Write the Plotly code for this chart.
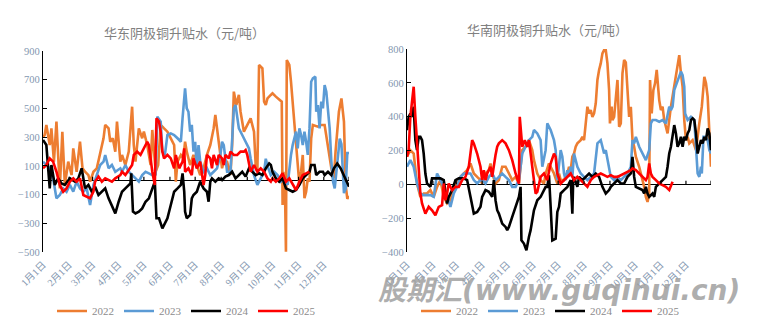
import pandas as pd
import plotly.graph_objects as go

# ---------------- data (day of year, premium yuan/ton) ----------------
YEARS = ["2022", "2023", "2024", "2025"]
COLORS = ["#ED7D31", "#5B9BD5", "#000000", "#FF0000"]
MONTH_LABELS = [f"{m}月1日" for m in range(1, 13)]
EAST_TICKS = [-500, -300, -100, 100, 300, 500, 700, 900]
SOUTH_TICKS = [-400, -200, 0, 200, 400, 600, 800]

EAST_2022 = [(1,300),(3,315),(5,385),(9,245),(11,361),(14,129),(17,408),(19,176),(21,-57),(24,338),(27,-33),(31,129),(35,36),(37,222),(41,59),(45,268),(48,83),(51,59),(55,36),(57,-10),(61,59),(65,83),(69,199),(73,292),(75,385),(79,361),(81,268),(84,292),(87,199),(89,408),(93,129),(95,176),(99,106),(103,199),(107,512),(109,245),(111,129),(115,361),(119,292),(121,338),(125,245),(127,176),(129,106),(131,350),(133,176),(135,59),(138,106),(141,385),(145,361),(149,338),(153,292),(157,245),(159,-10),(161,129),(165,176),(168,152),(170,268),(172,199),(176,106),(180,176),(184,106),(188,36),(192,83),(196,176),(200,245),(204,361),(206,454),(208,361),(210,245),(212,176),(214,83),(216,129),(220,129),(224,36),(226,245),(228,617),(231,524),(234,594),(236,477),(240,338),(244,385),(248,431),(252,338),(254,106),(256,59),(258,803),(262,779),(264,547),(266,524),(268,570),(272,594),(274,605),(278,582),(282,559),(285,547),(286,-173),(287,59),(289,-115),(290,-498),(291,837),(294,803),(296,686),(298,547),(300,385),(302,245),(304,106),(306,-33),(308,59),(310,176),(312,-126),(314,-80),(316,13),(318,-10),(320,290),(322,385),(328,373),(332,385),(336,385),(340,245),(344,83),(347,13),(349,199),(353,477),(356,570),(359,408),(361,-33),(363,-130),(365,-110)]
EAST_2023 = [(1,129),(5,106),(9,83),(13,13),(17,-126),(21,-103),(25,-57),(29,-80),(33,-33),(37,-80),(41,-10),(45,-57),(49,-80),(53,-57),(57,-173),(61,-33),(65,36),(69,106),(73,129),(75,176),(79,83),(83,106),(87,59),(93,83),(95,59),(99,106),(103,59),(107,36),(111,13),(115,-10),(119,36),(123,59),(127,48),(131,36),(135,40),(137,443),(141,408),(143,199),(146,176),(149,315),(153,326),(157,315),(161,292),(165,268),(167,431),(169,547),(170,640),(172,501),(174,477),(176,338),(178,385),(180,199),(182,268),(184,83),(186,245),(188,129),(192,59),(196,83),(200,36),(204,59),(208,83),(212,176),(214,268),(216,245),(218,129),(220,59),(224,59),(228,501),(230,524),(232,454),(234,361),(238,315),(242,268),(246,222),(248,152),(252,36),(256,-33),(260,13),(264,59),(266,150),(268,100),(272,36),(276,59),(280,36),(284,-10),(288,13),(292,-33),(296,176),(298,245),(302,338),(304,222),(306,361),(308,315),(310,245),(312,338),(314,268),(316,176),(318,361),(320,686),(322,710),(325,721),(326,477),(328,524),(330,361),(332,547),(334,501),(336,663),(338,617),(340,477),(342,361),(344,129),(346,-10),(348,-57),(351,100),(354,290),(356,250),(359,-90),(361,-60),(363,190),(365,190)]
EAST_2024 = [(1,280),(5,245),(9,-57),(11,106),(15,-33),(19,13),(23,-22),(27,-33),(33,13),(39,-10),(43,13),(47,83),(51,-57),(55,-33),(59,-80),(63,-45),(67,-103),(71,-80),(75,-57),(79,-126),(83,-173),(87,-231),(91,-150),(95,-80),(99,-57),(103,-33),(105,-22),(106,48),(108,-219),(111,-231),(115,-219),(119,-196),(123,-150),(127,-126),(131,-57),(134,-10),(136,-265),(139,-265),(143,-335),(145,-312),(149,-265),(153,-173),(157,-80),(161,-57),(165,-33),(167,48),(169,-80),(170,-219),(172,-265),(176,-242),(178,-126),(180,-103),(184,-80),(188,-10),(192,-57),(196,-80),(198,-150),(200,-10),(202,13),(206,-10),(210,13),(214,1),(218,25),(222,36),(226,59),(230,13),(234,36),(238,59),(242,25),(246,83),(250,59),(254,36),(258,48),(262,36),(266,83),(270,117),(272,106),(274,59),(278,13),(282,-10),(286,13),(288,-22),(290,-57),(294,-68),(298,-80),(302,-68),(306,-33),(310,13),(314,36),(318,59),(320,106),(324,106),(326,36),(330,59),(334,59),(336,36),(340,59),(344,36),(347,83),(351,117),(355,83),(359,36),(363,-10),(365,-45)]
EAST_2025 = [(1,83),(5,106),(9,152),(13,129),(17,59),(21,-33),(25,-80),(29,-57),(33,-10),(37,13),(41,-10),(45,13),(49,-103),(53,-115),(57,-126),(61,-80),(63,-10),(67,25),(71,-10),(75,13),(79,1),(83,-10),(87,13),(93,36),(95,59),(99,36),(103,71),(107,106),(109,176),(113,199),(117,176),(121,222),(125,268),(127,245),(129,152),(131,59),(134,-33),(136,431),(139,408),(141,338),(143,199),(145,152),(149,176),(153,152),(157,83),(159,176),(163,83),(167,129),(169,222),(170,59),(174,83),(178,36),(180,152),(184,83),(188,129),(192,-33),(194,36),(196,176),(200,152),(202,83),(204,176),(208,106),(210,176),(214,152),(216,106),(218,176),(222,152),(224,199),(228,176),(232,176),(236,199),(240,199),(242,210),(244,176),(248,59),(252,106),(256,59),(260,83),(264,59),(268,13),(272,-10),(274,13),(278,-10),(282,13),(286,48),(290,-10),(294,13),(298,-33),(302,-68),(306,-10),(310,36),(314,48),(318,59)]

SOUTH_2022 = [(1,163),(5,202),(9,182),(13,5),(17,-74),(21,-54),(25,-54),(29,-34),(33,-74),(37,-15),(41,25),(45,-74),(49,-113),(53,-94),(57,-15),(61,5),(65,44),(69,64),(73,84),(77,123),(81,64),(85,44),(89,25),(91,5),(95,64),(99,84),(101,123),(103,64),(107,5),(111,25),(115,104),(119,104),(123,64),(127,25),(131,44),(135,5),(139,202),(143,222),(147,261),(151,202),(153,143),(157,64),(161,25),(165,5),(167,64),(171,123),(175,84),(177,64),(181,5),(183,64),(185,25),(189,25),(193,64),(195,104),(197,84),(199,163),(201,182),(203,222),(205,242),(209,261),(211,281),(213,261),(215,360),(217,459),(219,419),(221,439),(223,399),(225,419),(227,478),(229,617),(231,676),(233,715),(235,774),(237,794),(239,794),(241,715),(243,557),(244,360),(246,459),(247,380),(249,399),(251,538),(253,617),(255,340),(257,360),(259,656),(261,735),(263,720),(265,557),(267,399),(269,459),(271,261),(273,222),(275,163),(279,104),(283,25),(285,-15),(287,-74),(289,-104),(291,-54),(292,617),(294,419),(296,557),(298,597),(300,676),(302,557),(303,498),(305,439),(307,459),(309,380),(313,301),(317,459),(321,577),(325,695),(327,764),(329,656),(331,577),(333,380),(335,261),(337,281),(339,242),(343,261),(347,202),(351,360),(354,459),(357,636),(359,597),(361,518),(363,340),(365,104)]
SOUTH_2023 = [(1,104),(5,143),(9,104),(13,5),(17,-54),(21,-64),(25,-64),(29,-64),(33,-74),(37,64),(41,25),(45,-15),(49,-74),(53,-133),(57,-54),(61,-15),(65,44),(69,64),(73,64),(77,64),(81,25),(85,5),(89,25),(91,25),(95,5),(99,44),(103,64),(107,25),(111,44),(115,64),(119,44),(123,25),(127,-15),(131,-15),(135,25),(139,182),(143,222),(147,261),(151,281),(153,321),(157,301),(161,261),(163,104),(167,202),(169,360),(173,321),(177,261),(179,202),(181,25),(183,123),(185,202),(187,163),(189,64),(191,25),(193,84),(195,44),(197,104),(199,44),(201,182),(205,104),(209,64),(213,44),(217,25),(221,44),(225,64),(229,242),(233,261),(235,222),(237,182),(239,202),(241,143),(243,104),(245,44),(249,25),(253,44),(257,25),(261,44),(265,64),(269,104),(271,261),(273,242),(275,281),(279,222),(283,182),(287,143),(291,202),(293,360),(295,380),(299,380),(303,370),(307,380),(311,360),(315,459),(317,439),(319,459),(321,557),(325,617),(329,666),(331,646),(333,577),(334,419),(337,380),(341,399),(345,380),(347,222),(349,64),(351,44),(353,104),(354,64),(356,281),(358,281),(361,261),(363,202),(365,182)]
SOUTH_2024 = [(1,320),(3,399),(5,419),(7,399),(9,459),(11,261),(13,202),(15,281),(17,281),(19,261),(21,182),(23,64),(25,5),(29,-15),(31,35),(37,35),(41,35),(45,25),(49,-113),(51,-74),(55,-34),(59,25),(63,35),(69,35),(73,25),(77,-74),(81,-173),(85,-163),(89,-133),(91,-74),(95,-34),(99,-44),(103,-74),(105,25),(107,-94),(109,-153),(111,-173),(115,-232),(119,-252),(121,-271),(123,-252),(127,-192),(131,-133),(135,-74),(137,-15),(138,-331),(141,-350),(144,-390),(147,-311),(149,-271),(151,-212),(153,-153),(157,-94),(161,-74),(163,-54),(167,-15),(169,-15),(171,54),(173,-133),(175,-331),(179,-321),(181,-163),(183,-133),(185,-54),(189,-34),(193,-15),(197,25),(199,-173),(200,25),(201,44),(205,-15),(207,44),(211,25),(215,44),(219,64),(223,44),(227,64),(231,44),(235,-15),(239,-54),(243,-34),(245,-15),(249,5),(253,25),(257,5),(261,5),(265,44),(269,64),(271,163),(273,44),(275,-15),(279,-25),(283,-34),(285,-54),(287,-15),(289,-54),(291,-74),(295,-54),(297,-74),(299,-15),(303,5),(307,25),(311,44),(313,104),(315,182),(317,222),(319,301),(321,350),(323,301),(325,222),(327,242),(329,281),(331,222),(333,281),(335,261),(337,301),(339,321),(341,380),(343,390),(345,380),(347,301),(349,182),(351,222),(353,261),(355,242),(357,281),(359,261),(361,330),(363,301),(365,202)]
SOUTH_2025 = [(1,163),(3,202),(5,399),(7,478),(9,577),(11,399),(13,222),(15,64),(17,-54),(19,-113),(23,-173),(27,-133),(31,-153),(35,-183),(39,-133),(43,-123),(45,5),(47,-94),(49,-54),(51,5),(55,-34),(59,-15),(63,-15),(67,25),(71,44),(75,104),(79,261),(81,242),(85,182),(89,104),(91,25),(93,84),(95,25),(97,64),(99,84),(101,104),(103,44),(105,123),(107,173),(109,222),(111,242),(115,261),(119,242),(123,202),(127,143),(131,64),(135,5),(136,399),(139,222),(142,261),(145,222),(147,261),(149,182),(151,104),(153,25),(155,-54),(157,-44),(159,5),(161,44),(165,64),(169,25),(173,123),(177,182),(179,163),(181,64),(185,5),(189,25),(193,44),(197,64),(201,25),(205,44),(209,25),(213,5),(217,-15),(221,25),(225,44),(229,54),(233,64),(237,54),(241,44),(245,54),(249,44),(253,44),(257,54),(261,64),(265,74),(269,84),(271,94),(275,84),(279,64),(283,44),(287,25),(289,44),(291,123),(293,64),(295,44),(299,25),(303,5),(307,-5),(311,-15),(315,-34),(317,-5),(319,15)]

EAST = [EAST_2022, EAST_2023, EAST_2024, EAST_2025]
SOUTH = [SOUTH_2022, SOUTH_2023, SOUTH_2024, SOUTH_2025]

# ---------------- figure ----------------
BASE = pd.Timestamp("2021-01-01")
def to_date(d):
    return BASE + pd.Timedelta(days=d - 1)

month_starts = [pd.Timestamp(2021, m, 1) for m in range(1, 13)]
x_range = [pd.Timestamp("2021-01-01"), pd.Timestamp("2021-12-31")]

TICK_COLOR = "#8497B0"
TEXT_GRAY = "#8C8C8C"
SERIF = "Liberation Serif, Noto Sans CJK SC"

fig = go.Figure()
for panel, xa, ya, lg in [(EAST, "x", "y", "legend"), (SOUTH, "x2", "y2", "legend2")]:
    for name, color, series in zip(YEARS, COLORS, panel):
        fig.add_trace(go.Scatter(
            x=[to_date(d) for d, _ in series], y=[v for _, v in series],
            mode="lines", name=name, line=dict(color=color, width=2.6),
            xaxis=xa, yaxis=ya, legend=lg, hoverinfo="skip"))

def xaxis_cfg(domain, anchor):
    return dict(domain=domain, anchor=anchor, type="date", range=x_range,
                tickvals=month_starts, ticktext=MONTH_LABELS, tickangle=-45,
                tickfont=dict(family=SERIF, size=10, color=TICK_COLOR),
                showline=False, ticks="", showgrid=False, zeroline=False,
                ticklabelstandoff=4, automargin=False)

def yaxis_cfg(domain, anchor, rng, ticks):
    return dict(domain=domain, anchor=anchor, range=rng, tickvals=ticks,
                tickfont=dict(family=SERIF, size=10.5, color=TICK_COLOR),
                showline=True, linecolor="black", linewidth=1.3,
                ticks="inside", ticklen=4, tickcolor="black", tickwidth=1.3,
                zeroline=True, zerolinecolor="black", zerolinewidth=1.2,
                showgrid=False, automargin=False)

LEGEND_STYLE = dict(orientation="h", xanchor="center", y=1-311/323, yanchor="middle",
                    font=dict(family=SERIF, size=11, color=TEXT_GRAY), itemwidth=30,
                    entrywidth=22, entrywidthmode="pixels",
                    bgcolor="rgba(0,0,0,0)", tracegroupgap=0)

fig.update_layout(
    width=770, height=323, margin=dict(l=0, r=0, t=0, b=0, autoexpand=False),
    paper_bgcolor="white", plot_bgcolor="white",
    xaxis=xaxis_cfg([43/770, 349/770], "y"),
    yaxis=yaxis_cfg([1-252/323, 1-51/323], "x", [-500, 900], EAST_TICKS),
    xaxis2=xaxis_cfg([407/770, 711/770], "y2"),
    yaxis2=yaxis_cfg([1-252/323, 1-49/323], "x2", [-400, 800], SOUTH_TICKS),
    legend=dict(x=186/770, **LEGEND_STYLE),
    legend2=dict(x=550/770, **LEGEND_STYLE),
    showlegend=True,
)

# month tick marks on the zero line
shapes = []
tick_dates = month_starts[1:] + [pd.Timestamp("2021-12-31")]
for xr, yr, h in [("x", "y", 24), ("x2", "y2", 21)]:
    for d in tick_dates:
        shapes.append(dict(type="line", xref=xr, yref=yr, x0=d, x1=d, y0=0, y1=h,
                           line=dict(color="black", width=1.2)))
fig.update_layout(shapes=shapes)

# titles
fig.add_annotation(text="华东阴极铜升贴水（元/吨）", x=184/770, y=1-32/323, xref="paper", yref="paper",
                   xanchor="center", yanchor="middle", showarrow=False,
                   font=dict(family="Noto Sans CJK SC", size=13, color="#808080"))
fig.add_annotation(text="华南阴极铜升贴水（元/吨）", x=547/770, y=1-30/323, xref="paper", yref="paper",
                   xanchor="center", yanchor="middle", showarrow=False,
                   font=dict(family="Noto Sans CJK SC", size=13, color="#808080"))
# watermark
fig.add_annotation(text="<b><i>股期汇(www.guqihui.cn)</i></b>", x=559/770, y=1-290/323,
                   xref="paper", yref="paper", xanchor="center", yanchor="middle", showarrow=False,
                   font=dict(family="DejaVu Sans, Noto Sans CJK SC", size=28, color="rgba(160,160,160,0.85)"))

fig.write_html("out.html")
